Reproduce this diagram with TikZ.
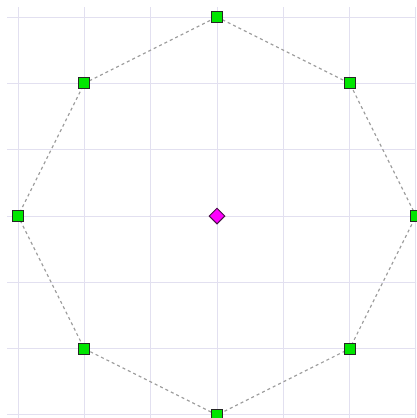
\documentclass[tikz,border=0pt]{standalone}
\usetikzlibrary{shapes.geometric}
\definecolor{gridc}{RGB}{226,224,240}
\definecolor{vgreen}{RGB}{0,230,0}
\definecolor{dashc}{RGB}{160,160,160}
\definecolor{diafill}{RGB}{255,0,255}
\definecolor{diaedge}{RGB}{70,20,70}
\tikzset{
  gridline/.style={draw=gridc, line width=1pt},
  octedge/.style={draw=dashc, line width=1.2pt, dash pattern=on 3pt off 3pt},
  vertexbox/.style={rectangle, draw=black!85, fill=vgreen, line width=1pt, minimum size=11pt, inner sep=0pt},
  centerdia/.style={diamond, draw=diaedge, fill=diafill, line width=1pt, minimum size=16pt, inner sep=0pt}
}
\begin{document}
\begin{tikzpicture}[x=1pt,y=-1pt]
\useasboundingbox (0,0) rectangle (416,418);
\begin{scope}
\clip (0,0) rectangle (416,418);
\foreach \k in {-3,...,3} {
  \draw[gridline] ({217+66.33*\k},7) -- ({217+66.33*\k},420);
  \draw[gridline] (7,{216+66.33*\k}) -- (420,{216+66.33*\k});
}
\end{scope}
\coordinate (p0) at (217,17);
\coordinate (p1) at (349.7,83.3);
\coordinate (p2) at (416,216);
\coordinate (p3) at (349.7,348.7);
\coordinate (p4) at (217,415);
\coordinate (p5) at (84.3,348.7);
\coordinate (p6) at (18,216);
\coordinate (p7) at (84.3,83.3);
\draw[octedge] (p0) -- (p1) -- (p2) -- (p3) -- (p4) -- (p5) -- (p6) -- (p7) -- cycle;
\foreach \i in {0,...,7} {
  \node[vertexbox] (v\i) at (p\i) {};
}
\node[centerdia] (c) at (217,216) {};
\end{tikzpicture}
\end{document}
